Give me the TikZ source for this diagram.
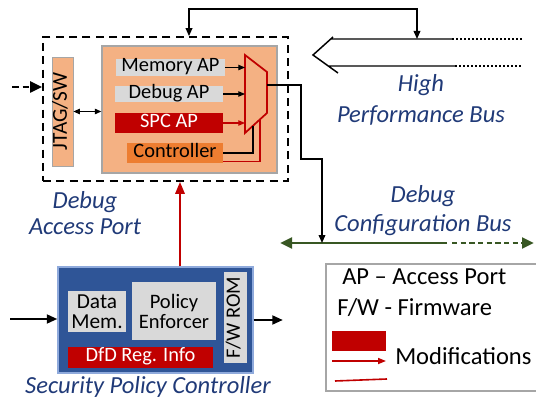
\documentclass[tikz,border=0pt]{standalone}
\usepackage{fontspec}
\setmainfont{Carlito}
\usetikzlibrary{arrows.meta}
\definecolor{orL}{HTML}{F4B183}
\definecolor{grL}{HTML}{D9D9D9}
\definecolor{redM}{HTML}{C00000}
\definecolor{orM}{HTML}{ED7D31}
\definecolor{blueM}{HTML}{2F5597}
\definecolor{blueB}{HTML}{8FAADC}
\definecolor{navy}{HTML}{203A78}
\definecolor{greenD}{HTML}{385723}
\definecolor{bordG}{HTML}{A6A6A6}
\newcommand\fsS{\fontsize{15.3}{18}\selectfont}
\newcommand\fsL{\fontsize{18.4}{22}\selectfont}
\begin{document}
\begin{tikzpicture}[x=0.75pt,y=-0.75pt,
  box/.style={inner sep=0pt, text height=0.75em, text depth=0.1em, font=\fsS},
  graybox/.style={box, fill=grL},
  graybox2/.style={inner sep=0pt, fill=grL, align=center},
  lbl/.style={inner sep=0pt, font=\fsL\itshape, text=navy, align=center},
  legtxt/.style={inner sep=0pt, text height=0.75em, text depth=0.1em, font=\fsL, anchor=west},
  blk/.style={line width=1.3pt, black},
  smallhead/.style={-{Triangle[length=5pt,width=4pt]}},
  bighead/.style={-{Triangle[length=8pt,width=6.5pt]}}
]
\useasboundingbox (0,0) rectangle (536,403);
\clip (0,0) rectangle (536,403);

% Debug access port (dashed)
\node[draw, dashed, line width=1.3pt, dash pattern=on 6pt off 4pt, minimum width=183.75pt, minimum height=108pt, inner sep=0pt] (dap) at (165.5,109) {};
\node[draw=bordG, fill=orL, line width=0.8pt, minimum width=131.25pt, minimum height=95.25pt, inner sep=0pt] (dapin) at (189.5,109.5) {};
\node[box, draw=bordG, fill=orL, rotate=90, minimum width=81.75pt, minimum height=15.75pt, font=\fontsize{16}{18}\selectfont] (jtag) at (62.5,111.5) {JTAG/SW};

\node[graybox, minimum width=81.75pt, minimum height=12.75pt] (memap) at (170.5,67.5) {Memory AP};
\node[graybox, minimum width=81pt, minimum height=12pt] (dbgap) at (169,94) {Debug AP};
\node[box, fill=redM, text=white, minimum width=81pt, minimum height=15pt] (spcap) at (169,123) {SPC AP};
\node[box, fill=orM, minimum width=72pt, minimum height=15pt] (ctrl) at (175,153) {Controller};

% mux
\coordinate (m1) at (245,55);
\coordinate (m2) at (267,72);
\coordinate (m3) at (267,113);
\coordinate (m4) at (245,133);
\coordinate (mo) at (267,85);
\coordinate (mb1) at (253,125.7);
\coordinate (mb2) at (260,119.4);
\draw[redM, line width=1.3pt, fill=orL] (m1) -- (m2) -- (m3) -- (m4) -- cycle;

\draw[line width=0.8pt, smallhead] (memap.east) -- (memap.east -| m1);
\draw[line width=0.8pt, smallhead] (dbgap.east) -- (dbgap.east -| m1);
\draw[redM, line width=0.8pt, smallhead] (spcap.east) -- (spcap.east -| m1);
\draw[line width=1pt] (ctrl.east) -| (mb1);
\draw[redM, line width=0.8pt] (ctrl.east |- 0,161.5) -| (mb2);

\draw[line width=1.1pt, {Triangle[length=5pt,width=4pt]}-{Triangle[length=5pt,width=4pt]}] (jtag.south) -- (jtag.south -| dapin.west);

\coordinate (lin) at (12,87);
\draw[line width=2.2pt, dash pattern=on 5pt off 3pt, -{Triangle[length=9pt,width=8pt]}] (lin) -- (lin -| dap.west);

% High performance bus
\coordinate (tA) at (189,37);
\coordinate (tB) at (417,9);
\coordinate (tC) at (417,39);
\draw[line width=1.1pt, {Triangle[length=6pt,width=5pt]}-{Triangle[length=6pt,width=5pt]}] (dap.north -| tA) |- (tB) -- (tC);
\coordinate (b1s) at (331,39);
\coordinate (b1m) at (452,39);
\coordinate (b1e) at (522,39);
\coordinate (b2s) at (328,66);
\coordinate (b2m) at (455,66);
\coordinate (b2e) at (522,66);
\coordinate (ca) at (333,37);
\coordinate (ct) at (313,55);
\coordinate (cb) at (338,73);
\draw[line width=1.1pt] (b1s) -- (b1m) (b2s) -- (b2m) (ca) -- (ct) -- (cb);
\draw[line width=1.1pt, dash pattern=on 1.6pt off 1.4pt] (b1m) -- (b1e) (b2m) -- (b2e);
\node[lbl, text height=0.75em] (hpb) at (421,119) {High\\[1.2pt]Performance Bus};

% Debug configuration bus
\coordinate (g1) at (280,243);
\coordinate (g2) at (447,243);
\coordinate (g2b) at (452,243);
\coordinate (g3) at (534,243);
\coordinate (gb) at (322,243);
\draw[greenD, line width=2.2pt, -{Triangle[length=9pt,width=8pt]}] (g2) -- (g1);
\draw[greenD, line width=2.2pt, dash pattern=on 4pt off 2.5pt, -{Triangle[length=9pt,width=8pt]}] (g2b) -- (g3);
\draw[line width=1.1pt, -{Triangle[length=6pt,width=5pt]}] (mo) -- (301,85) -- (301,159) -- (322,159) -- (gb);
\node[lbl, text height=0.75em] (dcb) at (423,229) {Debug\\[0pt]Configuration Bus};
\node[lbl, text height=0.75em] (dapl) at (85,230) {Debug\\[-2pt]Access Port};

% Security policy controller
\node[draw=blueB, fill=blueM, line width=0.8pt, minimum width=146.25pt, minimum height=79.5pt, inner sep=0pt] (spc) at (155.5,320) {};
\node[graybox2, minimum width=43.5pt, minimum height=30.75pt, font=\fontsize{16}{15}\selectfont] (dmem) at (97,311.5) {Data\\Mem.};
\node[graybox2, minimum width=63pt, minimum height=43.5pt, font=\fontsize{15.4}{15}\selectfont] (pol) at (174,311) {Policy\\Enforcer};
\node[box, fill=redM, text=white, minimum width=108.75pt, minimum height=15.75pt] (dfd) at (140.5,357.5) {DfD Reg. Info};
\node[graybox, rotate=90, minimum width=68.25pt, minimum height=17.25pt] (fw) at (235.5,317.5) {F/W ROM};
\draw[redM, line width=1.6pt, -{Triangle[length=9pt,width=7pt]}] (spc.north -| 180,0) -- (dap.south -| 180,0);
\coordinate (sin) at (10,319);
\coordinate (sout) at (283,320);
\draw[line width=2pt, bighead] (sin) -- (sin -| spc.west);
\draw[line width=2pt, bighead] (spc.east |- sout) -- (sout);
\node[lbl] (spcl) at (148,387) {Security Policy Controller};

% Legend
\node[draw=bordG, line width=0.8pt, minimum width=164.25pt, minimum height=95.25pt, inner sep=0pt] (leg) at (435.5,327.5) {};
\node[legtxt] (l1) at (342,280) {AP – Access Port};
\node[legtxt] (l2) at (337,311) {F/W - Firmware};
\node[fill=redM, minimum width=40.5pt, minimum height=15pt, inner sep=0pt] (lr) at (359,341) {};
\coordinate (la1) at (332,361);
\coordinate (la2) at (386,361);
\coordinate (ll1) at (335,381);
\coordinate (ll2) at (387,379);
\draw[redM, line width=1.2pt, -{Triangle[length=6pt,width=4.5pt]}] (la1) -- (la2);
\draw[redM, line width=1.2pt] (ll1) -- (ll2);
\node[legtxt] (l3) at (395,360) {Modifications};
\end{tikzpicture}
\end{document}
